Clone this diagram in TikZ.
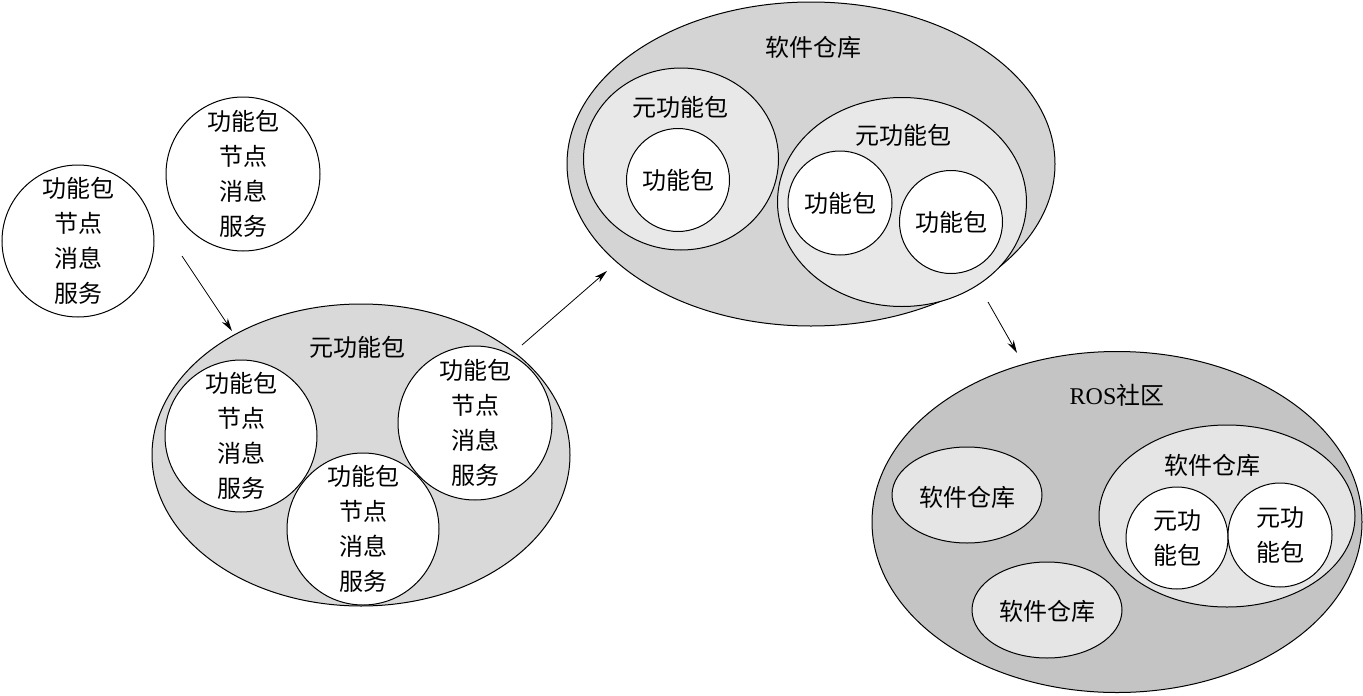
\documentclass[tikz,border=0pt]{standalone}
\usepackage{fontspec}
\setmainfont{Liberation Serif}
\newfontfamily\cjk{Noto Sans CJK SC}
\usetikzlibrary{shapes.geometric,arrows.meta}
\definecolor{gC}{gray}{0.85}
\definecolor{gD}{gray}{0.83}
\definecolor{gDi}{gray}{0.91}
\definecolor{gE}{gray}{0.77}
\definecolor{gEi}{gray}{0.90}
\begin{document}
\begin{tikzpicture}[x=1pt,y=-1pt,
  txt/.style={font=\cjk\fontsize{24}{35}\selectfont, align=center, inner sep=0pt},
  pk/.style={circle, draw, line width=1pt, fill=white, minimum size=#1, inner sep=0pt, txt},
  ell/.style n args={3}{ellipse, draw, line width=1pt, fill=#1, minimum width=#2, minimum height=#3, inner sep=0pt},
  arr/.style={line width=0.8pt, -{Stealth[length=13pt,width=7pt]}}]
\useasboundingbox (0,0) rectangle (1363,696);

% left free packages
\node[pk=152pt] (A) at (78,241) {功能包\\节点\\消息\\服务};
\node[pk=154pt] (B) at (243,174) {功能包\\节点\\消息\\服务};

% meta package
\node[ell={gC}{418pt}{302pt}] (C) at (361,455) {};
\node[txt] (Cl) at (357,347) {元功能包};
\node[pk=152pt] (C1) at (241,436) {功能包\\节点\\消息\\服务};
\node[pk=154pt] (C3) at (475,423) {功能包\\节点\\消息\\服务};
\node[pk=152pt] (C2) at (363,529) {功能包\\节点\\消息\\服务};

% repository
\node[ell={gD}{488pt}{324pt}] (D) at (811,164) {};
\node[txt] (Dl) at (813,47) {软件仓库};
\node[ell={gDi}{195pt}{182pt}] (D1) at (681,159) {};
\node[txt] (D1l) at (680,107) {元功能包};
\node[pk=103pt] (D1a) at (678,180) {功能包};
\node[ell={gDi}{249pt}{209pt}] (D2) at (902,202) {};
\node[txt] (D2l) at (903,135) {元功能包};
\node[pk=104pt] (D2a) at (840,203) {功能包};
\node[pk=103pt] (D2b) at (951,222) {功能包};

% ROS community
\node[ell={gE}{490pt}{341pt}] (E) at (1117,522) {};
\node[txt, font=\fontsize{24}{35}\selectfont] (El) at (1117,395) {ROS{\cjk 社区}};
\node[ell={gEi}{150pt}{96pt}] (E1) at (967,495) {};
\node[txt] (E1l) at (967,497) {软件仓库};
\node[ell={gEi}{150pt}{96pt}] (E2) at (1047,610) {};
\node[txt] (E2l) at (1047,611) {软件仓库};
\node[ell={gEi}{256pt}{182pt}] (E3) at (1227,516) {};
\node[txt] (E3l) at (1212,465) {软件仓库};
\node[pk=102pt] (E3a) at (1177,538) {元功\\能包};
\node[pk=104pt] (E3b) at (1280,535) {元功\\能包};

% arrows
\coordinate (s1) at (182,256);
\coordinate (t1) at (232,331);
\coordinate (s2) at (522,345);
\coordinate (t2) at (607,271);
\coordinate (s3) at (988,302);
\coordinate (t3) at (1017,353);
\draw[arr] (s1) -- (t1);
\draw[arr] (s2) -- (t2);
\draw[arr] (s3) -- (t3);
\end{tikzpicture}
\end{document}
